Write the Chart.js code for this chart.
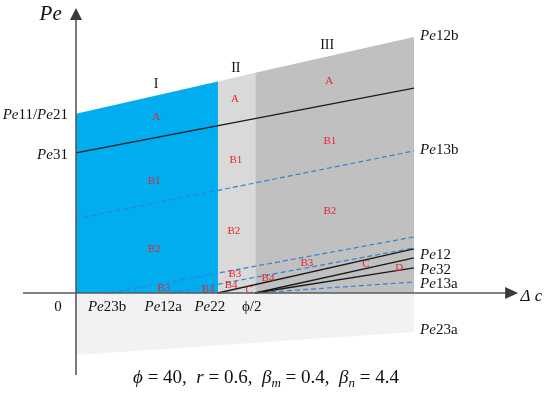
<!DOCTYPE html>
<html>
<head>
<meta charset="utf-8">
<script src="https://cdn.jsdelivr.net/npm/chart.js@4.4.1/dist/chart.umd.min.js"></script>
<style>
  body { margin: 0; background: #fff; }
  canvas { display: block; }
</style>
</head>
<body>
<canvas id="myChart" width="550" height="405"></canvas>
<script>
// x positions on the Δc axis (region borders and tick marks)
const regionX = [0, 4.2, 5.3, 10]
const topEdge = [7.0, 8.26, 8.6, 10.0]
const bottomEdge = [-2.42, -1.52]

const tickNames = ["0", "Pe23b", "Pe12a", "Pe22", "ϕ/2"]
const tickX = [-0.53, 0.92, 2.58, 3.96, 5.2]

// boundary lines: [x0, y0, x1, y1]
const solidLines = {
    Pe31: [0, 5.47, 10, 8.0],
    Pe12: [4.2, 0, 10, 1.72],
    mid: [5.3, 0, 10, 1.37],
    Pe32: [5.3, 0, 10, 0.98]
}
const dashedLines = {
    Pe13b: [0, 2.89, 10, 5.55],
    Pe23b: [1.0, 0, 10, 2.19],
    Pe12a: [2.8, 0, 10, 1.76],
    Pe13a: [5.3, 0, 10, 0.43]
}

const rightNames = ["Pe12b", "Pe13b", "Pe12", "Pe32", "Pe13a", "Pe23a"]
const rightY = [10.04, 5.59, 1.48, 0.9, 0.35, -1.45]
const leftNames = ["Pe11/Pe21", "Pe31"]
const leftY = [6.95, 5.39]

const romanNames = ["I", "II", "III"]
const romanX = [2.37, 4.73, 7.43]
const romanY = [8.16, 8.79, 9.69]

const zoneNames = ["A", "B1", "B2", "B3", "B4",
    "A", "B1", "B2", "B3", "B4", "C",
    "A", "B1", "B2", "B3", "B4", "C", "D"]
const zoneX = [2.37, 2.31, 2.31, 2.6, 3.91,
    4.7, 4.73, 4.67, 4.7, 4.59, 5.12,
    7.49, 7.51, 7.51, 6.83, 5.68, 8.58, 9.56]
const zoneY = [6.88, 4.38, 1.72, 0.2, 0.16,
    7.58, 5.2, 2.42, 0.74, 0.31, 0.12,
    8.28, 5.94, 3.2, 1.17, 0.59, 1.13, 0.98]

const regionColors = ["#00aeef", "#d9d9d9", "#c0c0c0"]

const datasets = []
for (const key in solidLines) {
    const l = solidLines[key]
    datasets.push({
        data: [{x: l[0], y: l[1]}, {x: l[2], y: l[3]}],
        showLine: true, borderColor: "#1a1a1a", borderWidth: 1.3,
        pointRadius: 0, order: 1
    })
}
for (const key in dashedLines) {
    const l = dashedLines[key]
    datasets.push({
        data: [{x: l[0], y: l[1]}, {x: l[2], y: l[3]}],
        showLine: true, borderColor: "#3183d4", borderWidth: 1.2,
        borderDash: [5, 3], pointRadius: 0, order: 1
    })
}
for (let i = 0; i < 3; i++) {
    datasets.push({
        data: [{x: regionX[i], y: topEdge[i]}, {x: regionX[i + 1], y: topEdge[i + 1]}],
        showLine: true, fill: "origin", backgroundColor: regionColors[i],
        borderColor: regionColors[i], borderWidth: 0, pointRadius: 0, order: 2
    })
}
datasets.push({
    data: [{x: regionX[0], y: bottomEdge[0]}, {x: regionX[3], y: bottomEdge[1]}],
    showLine: true, fill: "origin", backgroundColor: "#f2f2f2",
    borderColor: "#f2f2f2", borderWidth: 0, pointRadius: 0, order: 2
})

const SERIF = "'Liberation Serif', 'Times New Roman', serif"

function splitPe(name) {
    // "Pe" is written in italics, the index upright
    const parts = []
    name.split("/").forEach((piece, k) => {
        if (k > 0) parts.push({t: "/"})
        if (piece.startsWith("Pe")) {
            parts.push({t: "Pe", i: true})
            parts.push({t: piece.slice(2)})
        } else {
            parts.push({t: piece})
        }
    })
    return parts
}

function drawRich(ctx, parts, x, y, size, align) {
    const fontOf = (p) => (p.i ? "italic " : "") + Math.round(size * (p.sub ? 0.72 : 1)) + "px " + SERIF
    let w = 0
    parts.forEach(p => { ctx.font = fontOf(p); w += ctx.measureText(p.t).width })
    let cx = align === "right" ? x - w : align === "center" ? x - w / 2 : x
    ctx.textAlign = "left"
    ctx.textBaseline = "middle"
    parts.forEach(p => {
        ctx.font = fontOf(p)
        ctx.fillText(p.t, cx, p.sub ? y + size * 0.3 : y)
        cx += ctx.measureText(p.t).width
    })
}

const decorations = {
    id: "decorations",
    beforeDraw(chart) {
        const ctx = chart.ctx
        ctx.save()
        ctx.fillStyle = "#fff"
        ctx.fillRect(0, 0, chart.width, chart.height)
        ctx.restore()
    },
    afterDatasetsDraw(chart) {
        const ctx = chart.ctx
        const sx = chart.scales.x
        const sy = chart.scales.y
        const px = (v) => sx.getPixelForValue(v)
        const py = (v) => sy.getPixelForValue(v)
        ctx.save()

        // axes
        const x0 = px(0), y0 = py(0)
        ctx.strokeStyle = "#5a5a5a"
        ctx.fillStyle = "#3a3a3a"
        ctx.lineWidth = 1.6
        ctx.beginPath()
        ctx.moveTo(x0, py(-3.2))
        ctx.lineTo(x0, py(10.7))
        ctx.moveTo(px(-1.57), y0)
        ctx.lineTo(px(12.7), y0)
        ctx.stroke()
        const vTip = py(11.13), hTip = px(13.08)
        ctx.beginPath()
        ctx.moveTo(x0, vTip)
        ctx.lineTo(x0 - 6, vTip + 12)
        ctx.lineTo(x0 + 6, vTip + 12)
        ctx.closePath()
        ctx.fill()
        ctx.beginPath()
        ctx.moveTo(hTip, y0)
        ctx.lineTo(hTip - 13, y0 - 6)
        ctx.lineTo(hTip - 13, y0 + 6)
        ctx.closePath()
        ctx.fill()

        // texts
        ctx.fillStyle = "#111"
        drawRich(ctx, [{t: "Pe", i: true}], px(-0.75), py(10.86), 21, "center")
        drawRich(ctx, [{t: "Δ", i: true}, {t: " "}, {t: "c", i: true}], px(13.15), py(-0.12), 17, "left")

        tickNames.forEach((n, k) => {
            drawRich(ctx, n.startsWith("Pe") ? splitPe(n) : [{t: n}], px(tickX[k]), py(-0.55), 15, "center")
        })
        rightNames.forEach((n, k) => {
            drawRich(ctx, splitPe(n), px(10.18), py(rightY[k]), 15, "left")
        })
        leftNames.forEach((n, k) => {
            drawRich(ctx, splitPe(n), px(-0.24), py(leftY[k]), 15, "right")
        })
        romanNames.forEach((n, k) => {
            drawRich(ctx, [{t: n}], px(romanX[k]), py(romanY[k]), 14, "center")
        })

        ctx.fillStyle = "#e8262d"
        ctx.textAlign = "center"
        ctx.textBaseline = "middle"
        ctx.font = "11px " + SERIF
        zoneNames.forEach((n, k) => {
            ctx.fillText(n, px(zoneX[k]), py(zoneY[k]))
        })

        ctx.fillStyle = "#111"
        drawRich(ctx, [
            {t: "ϕ", i: true}, {t: " = 40,  "},
            {t: "r", i: true}, {t: " = 0.6,  "},
            {t: "β", i: true}, {t: "m", i: true, sub: true}, {t: " = 0.4,  "},
            {t: "β", i: true}, {t: "n", i: true, sub: true}, {t: " = 4.4"}
        ], 266, 378, 18.5, "center")

        ctx.restore()
    }
}

const config = {
    type: "scatter",
    data: {datasets},
    options: {
        responsive: false,
        animation: false,
        layout: {padding: 0},
        plugins: {legend: {display: false}, tooltip: {enabled: false}},
        scales: {
            x: {type: "linear", display: false, min: -76 / 33.8, max: 474 / 33.8},
            y: {type: "linear", display: false, min: -112 / 25.6, max: 293 / 25.6}
        }
    },
    plugins: [decorations]
}

const myChart = new Chart(document.getElementById("myChart"), config)
</script>
</body>
</html>
